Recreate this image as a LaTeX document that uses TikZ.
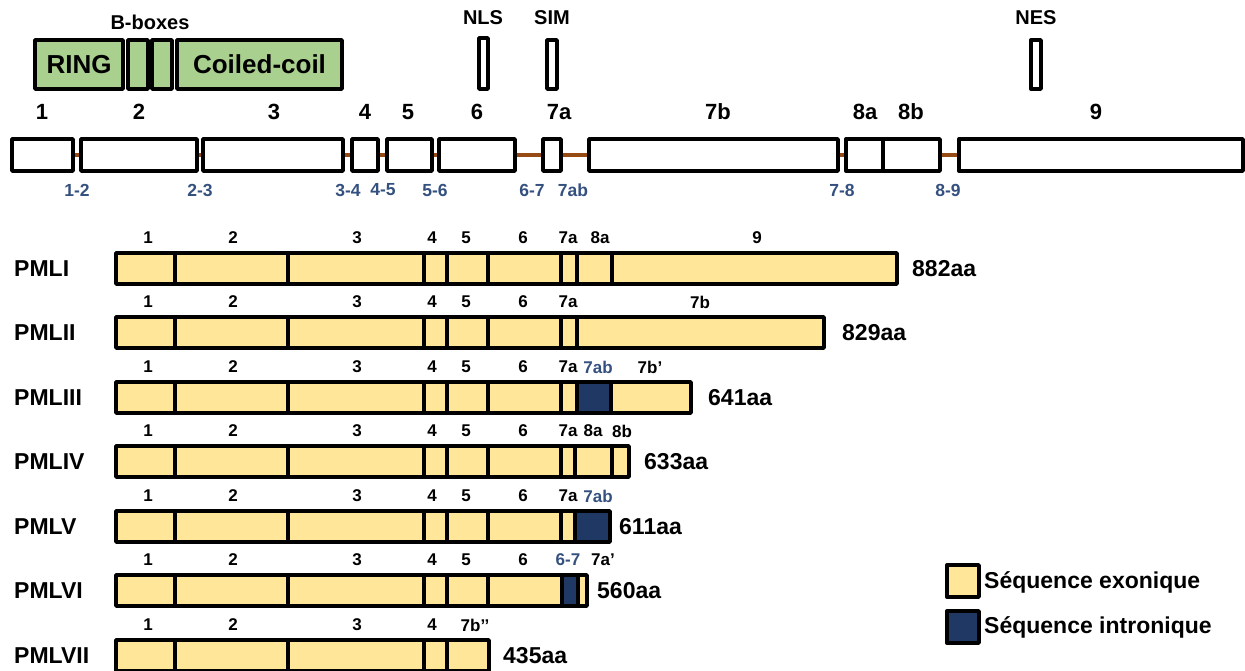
\documentclass[tikz,border=0pt]{standalone}
\usepackage{fontspec}
\setmainfont{Liberation Sans}
\definecolor{exfill}{HTML}{FFE699}
\definecolor{infill}{HTML}{203864}
\definecolor{dgreen}{HTML}{A9D08E}
\definecolor{intron}{RGB}{150,75,20}
\definecolor{bluetxt}{HTML}{34507F}
\newcommand\fs[1]{\bfseries\fontsize{#1}{#1}\selectfont}
\newcommand\bx[6]{\node[#1, minimum width={#5pt-#3pt}, minimum height={#6pt-#4pt}] (#2) at ({(#3+#5)/2},{(#4+#6)/2}) {};}
\begin{document}
\begin{tikzpicture}[x=1pt,y=-1pt,
  bord/.style={draw=black, line width=3.4pt, line join=round, line cap=round},
  exon/.style={bord, fill=white, rectangle, inner sep=0, outer sep=0},
  dom/.style={bord, fill=dgreen, rectangle, inner sep=0, outer sep=0},
  motif/.style={bord, fill=white, rectangle, inner sep=0, outer sep=0},
  intr/.style={draw=intron, line width=3.6pt},
  toplbl/.style={font=\fs{22}, inner sep=0},
  motlbl/.style={font=\fs{20}, inner sep=0},
  intlbl/.style={font=\fs{17.5}, text=bluetxt, inner sep=0},
  isolbl/.style={font=\fs{17}, inner sep=0},
  isoblue/.style={font=\fs{17}, text=bluetxt, inner sep=0},
  rowlbl/.style={font=\fs{23}, inner sep=0, anchor=west},
  sizelbl/.style={font=\fs{23}, inner sep=0, anchor=west},
  leglbl/.style={font=\fs{23}, inner sep=0, anchor=west}]
\useasboundingbox (0,0) rectangle (1245,671);

% ---------- protein domains ----------
\bx{dom}{ring}{35}{40}{123}{89}
\bx{dom}{bb1}{128}{40}{148}{89}
\bx{dom}{bb2}{152}{40}{172}{89}
\bx{dom}{cc}{177}{40}{342}{89}
\node[font=\fs{26}, inner sep=0] (ringt) at (ring.center) {RING};
\node[font=\fs{26}, inner sep=0] (cct) at (cc.center) {Coiled-coil};
\node[motlbl] (bbt) at (150,22) {B-boxes};
\bx{motif}{nls}{479}{38}{488}{89}
\bx{motif}{sim}{547}{40}{557}{89}
\bx{motif}{nes}{1031}{40}{1041}{89}
\node[motlbl] (nlst) at (483,18) {NLS};
\node[motlbl] (simt) at (552,18) {SIM};
\node[motlbl] (nest) at (1036,18) {NES};

% ---------- gene exons ----------
\bx{exon}{e1}{12}{139}{73}{171}
\bx{exon}{e2}{81}{139}{197}{171}
\bx{exon}{e3}{203}{139}{343}{171}
\bx{exon}{e4}{352}{139}{378}{171}
\bx{exon}{e5}{387}{139}{432}{171}
\bx{exon}{e6}{439}{139}{515}{171}
\bx{exon}{e7a}{543}{139}{561}{171}
\bx{exon}{e7b}{589}{139}{838}{171}
\bx{exon}{e8a}{846}{139}{883}{171}
\bx{exon}{e8b}{883}{139}{940}{171}
\bx{exon}{e9}{959}{139}{1243}{171}
\foreach \a/\b in {e1/e2,e2/e3,e3/e4,e4/e5,e5/e6,e6/e7a,e7a/e7b,e7b/e8a,e8b/e9}
  \draw[intr] ([xshift=1.7pt]\a.east) -- ([xshift=-1.7pt]\b.west);

\foreach \t/\x/\n in {1/42/n1,2/139/n2,3/274/n3,4/365/n4,5/408/n5,6/477/n6,7a/559/n7a,7b/718/n7b,8a/865/n8a,8b/911/n8b,9/1096/n9}
  \node[toplbl] (\n) at (\x,112) {\t};
\foreach \t/\x/\n in {1-2/77/i12,2-3/200/i23,3-4/348/i34,4-5/383/i45,5-6/435/i56,6-7/532/i67,7ab/573/i7ab,7-8/842/i78,8-9/948/i89}
  \node[intlbl] (\n) at (\x,190) {\t};

% ---------- isoforms ----------
\newcommand\isobar[3]{% #1 top, #2 right end, #3 dividers
  \fill[exfill] (116,#1) rectangle (#2,#1+31);
  \foreach \x in {#3} {\draw[bord] (\x,#1) -- (\x,#1+31);}
}
\newcommand\isoframe[2]{\draw[bord] (116,#1) rectangle (#2,#1+31);}
\newcommand\isonum[1]{%
  \foreach \t/\x in {1/148,2/233,3/357,4/432} {\node[isolbl] at (\x,#1-15) {\t};}}

% PMLI
\isobar{253}{897}{175,288,424,447,488,561,577,612}
\isoframe{253}{897}
\isonum{253}
\foreach \t/\x in {5/466,6/523,7a/568,8a/600,9/757} {\node[isolbl] at (\x,238) {\t};}
\node[rowlbl] (r1) at (14,269) {PMLI};
\node[sizelbl] (s1) at (912,269) {882aa};

% PMLII
\isobar{317}{824}{175,288,424,447,488,561,577}
\isoframe{317}{824}
\isonum{317}
\foreach \t/\x in {5/466,6/523,7a/568,7b/700} {\node[isolbl] at (\x,302) {\t};}
\node[rowlbl] (r2) at (14,333) {PMLII};
\node[sizelbl] (s2) at (842,333) {829aa};

% PMLIII
\isobar{382}{691}{175,288,424,447,488,561}
\fill[infill] (577,382) rectangle (611,413);
\foreach \x in {577,611} {\draw[bord] (\x,382) -- (\x,413);}
\isoframe{382}{691}
\isonum{382}
\foreach \t/\x in {5/466,6/523,7a/568,7b’/650} {\node[isolbl] at (\x,367) {\t};}
\node[isoblue] at (598,367) {7ab};
\node[rowlbl] (r3) at (14,398) {PMLIII};
\node[sizelbl] (s3) at (708,398) {641aa};

% PMLIV
\isobar{446}{629}{175,288,424,447,488,561,575,612}
\isoframe{446}{629}
\isonum{446}
\foreach \t/\x in {5/466,6/523,7a/568,8a/593,8b/622} {\node[isolbl] at (\x,431) {\t};}
\node[rowlbl] (r4) at (14,462) {PMLIV};
\node[sizelbl] (s4) at (644,462) {633aa};

% PMLV
\isobar{511}{610}{175,288,424,447,488,561}
\fill[infill] (575,511) rectangle (610,542);
\draw[bord] (575,511) -- (575,542);
\isoframe{511}{610}
\isonum{511}
\foreach \t/\x in {5/466,6/523,7a/568} {\node[isolbl] at (\x,496) {\t};}
\node[isoblue] at (598,496) {7ab};
\node[rowlbl] (r5) at (14,527) {PMLV};
\node[sizelbl] (s5) at (619,527) {611aa};

% PMLVI
\isobar{575}{587}{175,288,424,447,488}
\fill[infill] (562,575) rectangle (578,606);
\foreach \x in {562,578} {\draw[bord] (\x,575) -- (\x,606);}
\isoframe{575}{587}
\isonum{575}
\foreach \t/\x in {5/466,6/523,7a’/603} {\node[isolbl] at (\x,560) {\t};}
\node[isoblue] at (568,560) {6-7};
\node[rowlbl] (r6) at (14,591) {PMLVI};
\node[sizelbl] (s6) at (597,591) {560aa};

% PMLVII
\isobar{640}{489}{175,288,424,447}
\isoframe{640}{489}
\isonum{640}
\node[isolbl] at (475,625) {7b’’};
\node[rowlbl] (r7) at (14,656) {PMLVII};
\node[sizelbl] (s7) at (503,656) {435aa};

% ---------- legend ----------
\bx{exon,fill=exfill}{lg1}{947}{565}{979}{597}
\bx{exon,fill=infill}{lg2}{947}{611}{979}{643}
\node[leglbl] (lt1) at (984,582) {Séquence exonique};
\node[leglbl] (lt2) at (984,627) {Séquence intronique};
\end{tikzpicture}
\end{document}
